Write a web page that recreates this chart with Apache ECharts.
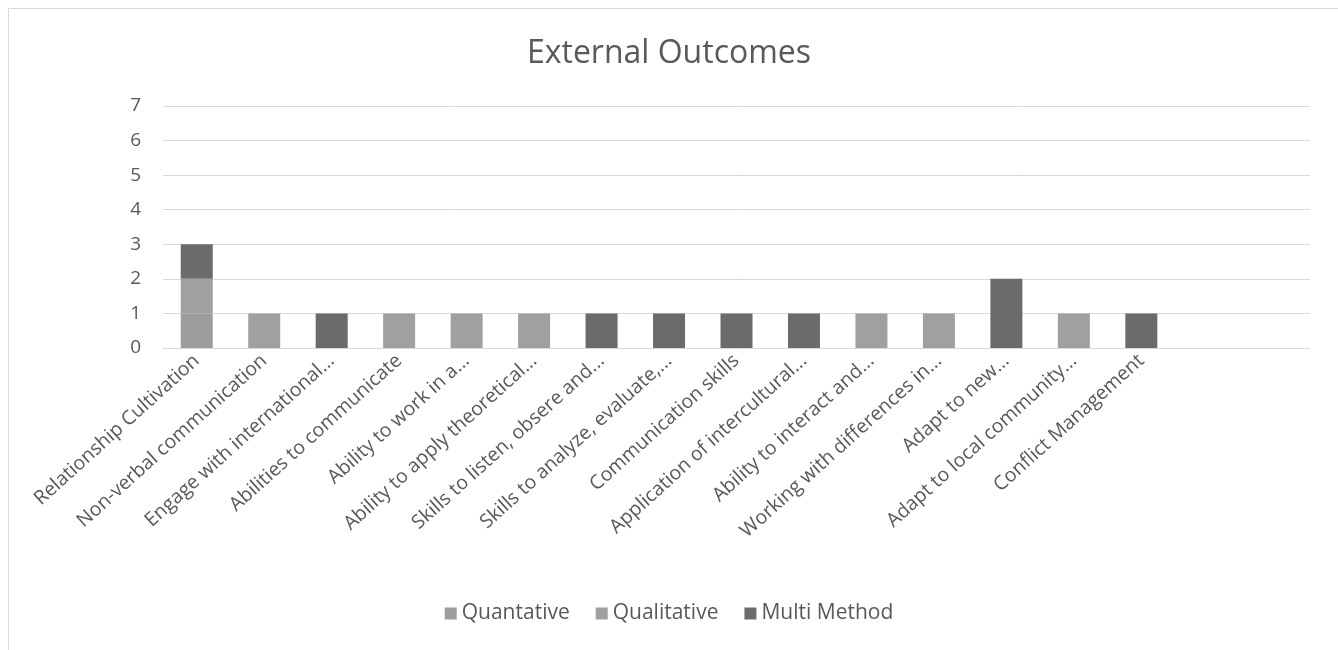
<!DOCTYPE html>
<html>
<head>
<meta charset="utf-8">
<script src="https://cdn.jsdelivr.net/npm/echarts@6/dist/echarts.min.js"></script>
<style>
  html, body { margin: 0; padding: 0; background: #fff; }
  #frame { position: absolute; left: 8px; top: 8px; width: 1340px; height: 660px; border: 1px solid #d9d9d9; box-sizing: border-box; }
  #chart { position: absolute; left: 0; top: 0; width: 1338px; height: 650px; }
</style>
</head>
<body>
<div id="frame"></div>
<div id="chart"></div>
<script>
const categories = [
  "Relationship Cultivation",
  "Non-verbal communication",
  "Engage with international...",
  "Abilities to communicate",
  "Ability to work in a...",
  "Ability to apply theoretical...",
  "Skills to listen, obsere and...",
  "Skills to analyze, evaluate,...",
  "Communication skills",
  "Application of intercultural...",
  "Ability to interact and...",
  "Working with differences in...",
  "Adapt to new...",
  "Adapt to local community...",
  "Conflict Management",
  "",
  ""
];
const quantative  = [1, 0, 0, 0, 0, 0, 0, 0, 0, 0, 0, 0, 0, 0, 0, 0, 0];
const qualitative = [1, 1, 0, 1, 1, 1, 0, 0, 0, 0, 1, 1, 0, 1, 0, 0, 0];
const multiMethod = [1, 0, 1, 0, 0, 0, 1, 1, 1, 1, 0, 0, 2, 0, 1, 0, 0];
const yTicks = [0, 1, 2, 3, 4, 5, 6, 7];

const textColor = '#595959';
const font = '"Open Sans", "Noto Sans", sans-serif';
const nz = arr => arr.map(v => v === 0 ? '-' : v);

const chart = echarts.init(document.getElementById('chart'));
chart.setOption({
  animation: false,
  backgroundColor: 'transparent',
  title: {
    text: 'External Outcomes',
    left: 'center',
    top: 33,
    textStyle: { fontFamily: font, fontSize: 32, fontWeight: 'normal', color: textColor }
  },
  legend: {
    bottom: 21,
    left: 'center',
    itemWidth: 12,
    itemHeight: 12,
    itemGap: 26,
    icon: 'rect',
    textStyle: { fontFamily: font, fontSize: 21, color: textColor },
    data: ['Quantative', 'Qualitative', 'Multi Method']
  },
  grid: { left: 163, right: 28, top: 106, bottom: 302, containLabel: false },
  xAxis: {
    type: 'category',
    data: categories,
    axisLine: { lineStyle: { color: '#d9d9d9', width: 1 } },
    axisTick: { show: false },
    axisLabel: {
      interval: 0,
      rotate: 42,
      margin: 10,
      fontFamily: font,
      fontSize: 19.5,
      color: textColor
    }
  },
  yAxis: {
    type: 'value',
    min: yTicks[0],
    max: yTicks[yTicks.length - 1],
    interval: 1,
    axisLine: { show: false },
    axisTick: { show: false },
    splitLine: { lineStyle: { color: '#d9d9d9', width: 1 } },
    axisLabel: { fontFamily: font, fontSize: 19, color: textColor, margin: 22 }
  },
  series: [
    { name: 'Quantative', type: 'bar', stack: 'a', barWidth: 32, data: nz(quantative), itemStyle: { color: '#9d9d9d' } },
    { name: 'Qualitative', type: 'bar', stack: 'a', barWidth: 32, data: nz(qualitative), itemStyle: { color: '#a0a0a0' } },
    { name: 'Multi Method', type: 'bar', stack: 'a', barWidth: 32, data: nz(multiMethod), itemStyle: { color: '#6b6b6b' } }
  ]
});
</script>
</body>
</html>
